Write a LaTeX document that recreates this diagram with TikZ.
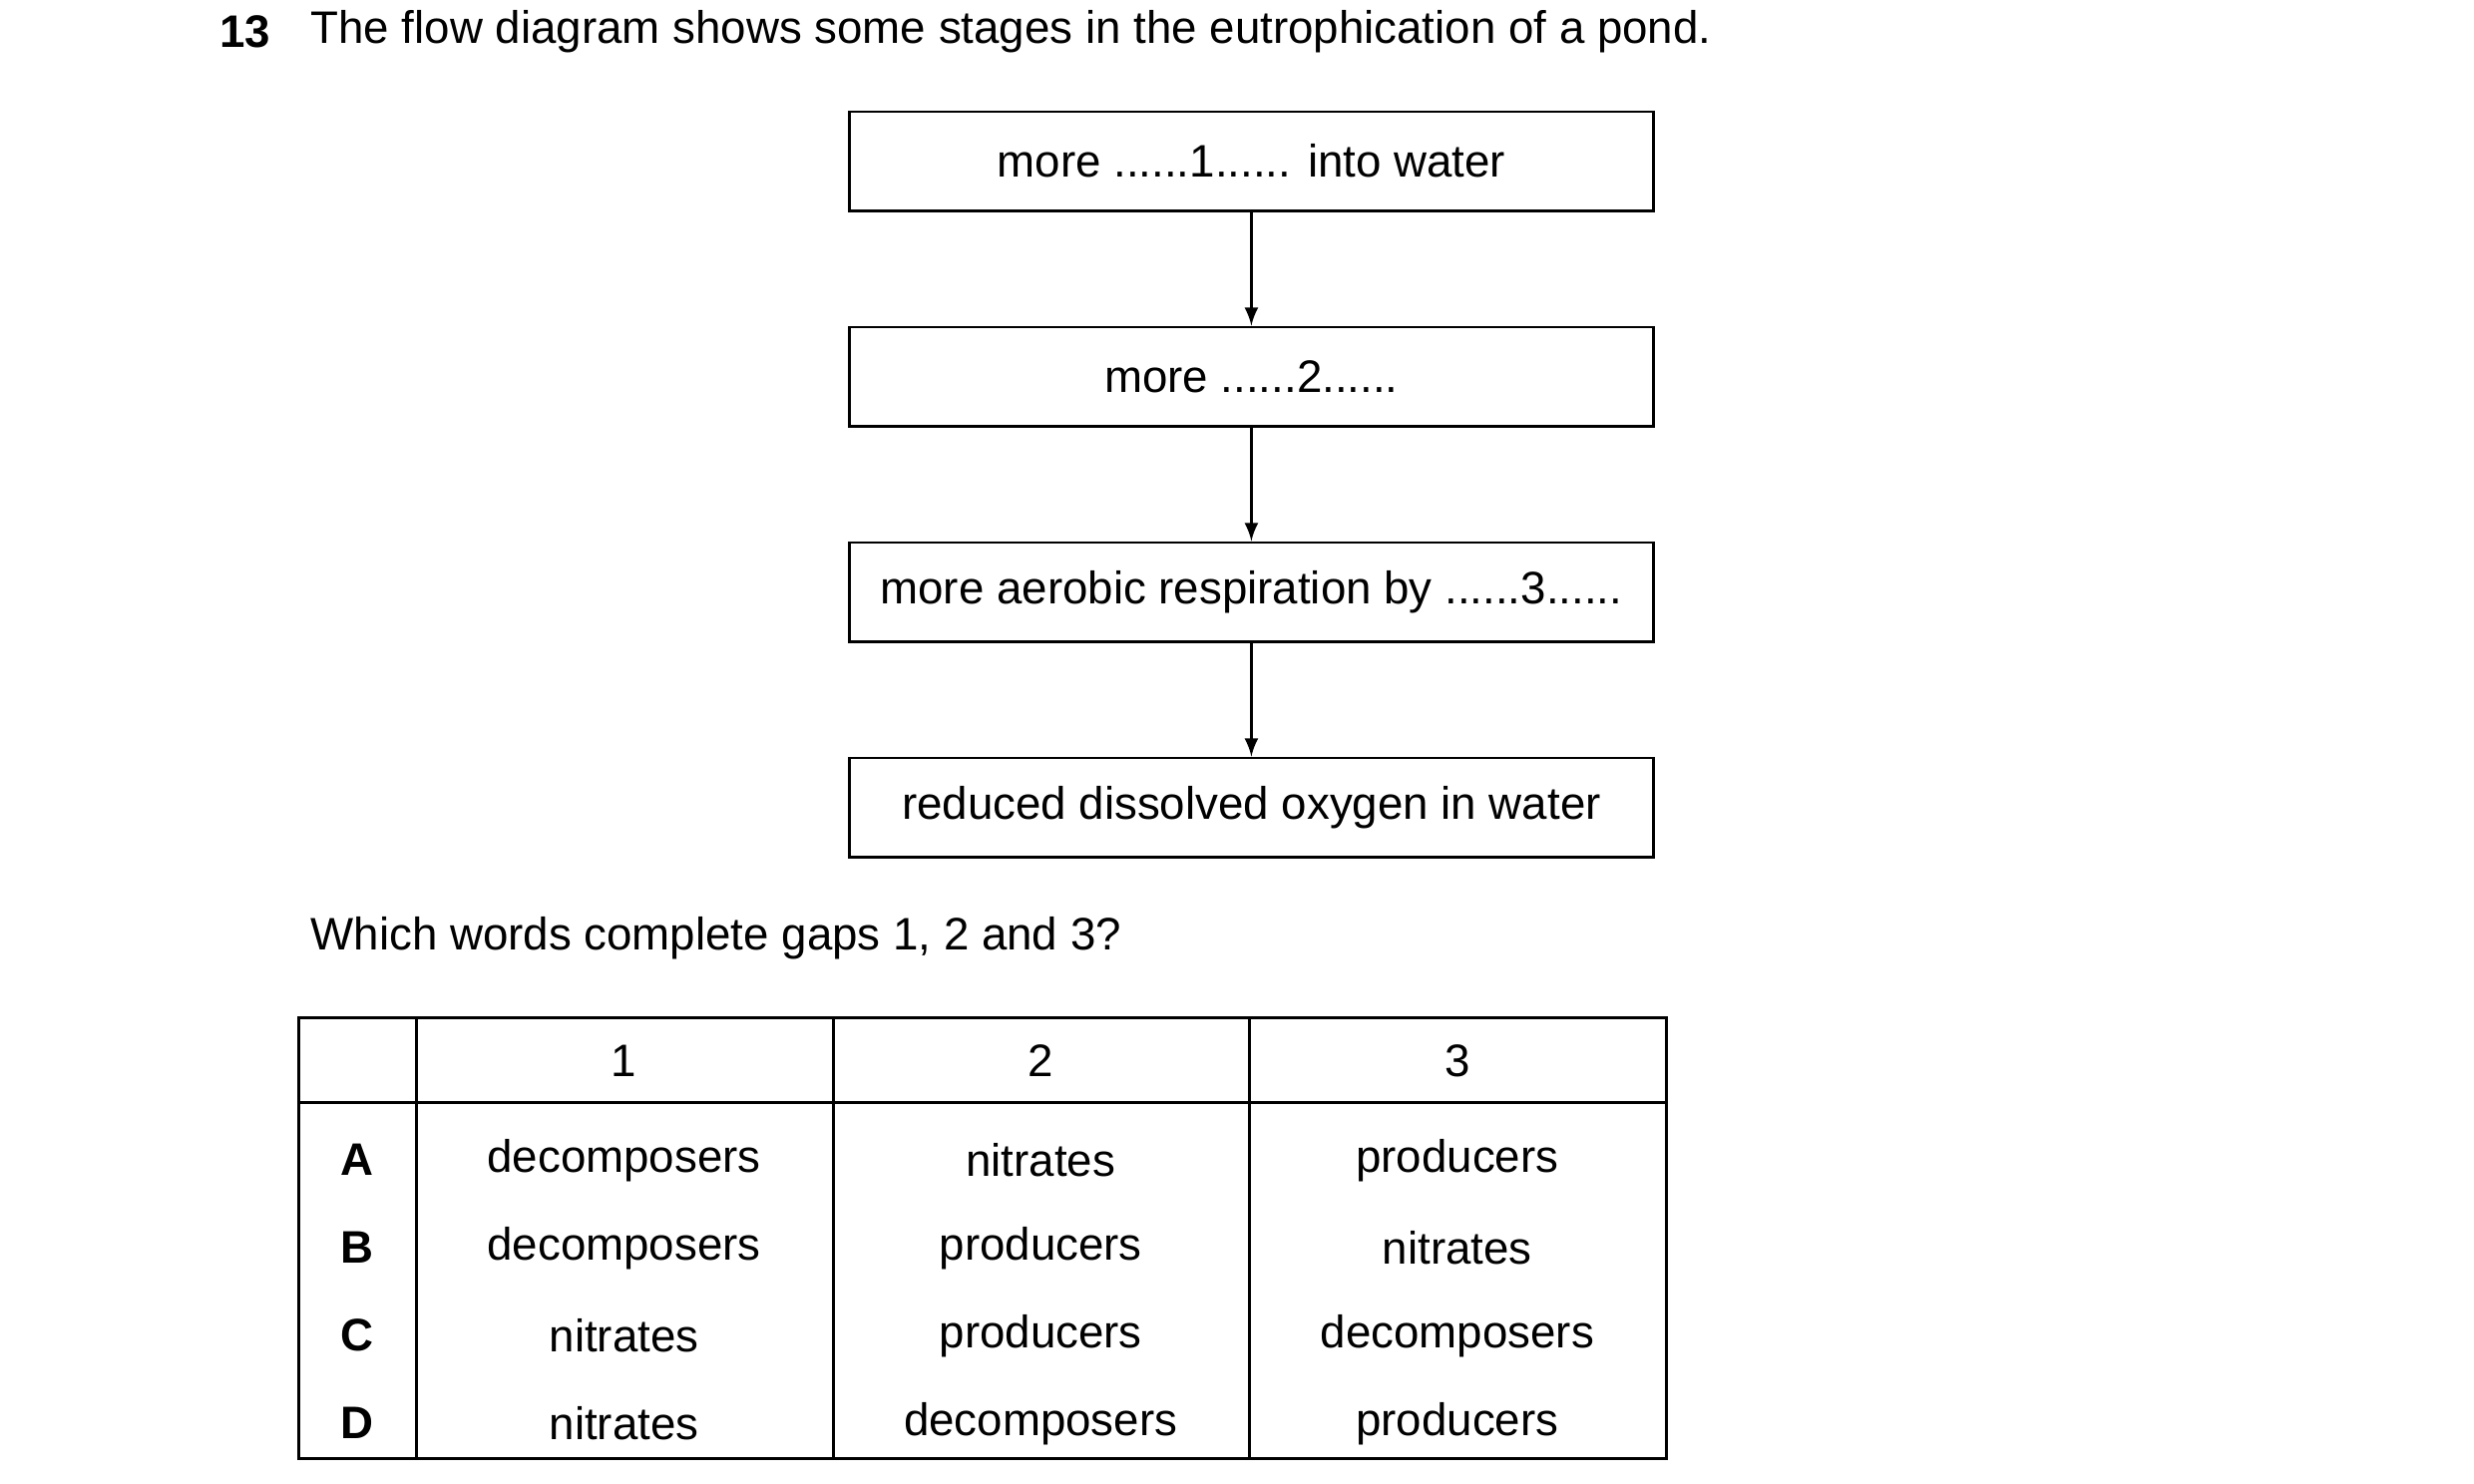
\documentclass[tikz,border=0pt]{standalone}
\usepackage{fontspec}
\setmainfont{Liberation Sans}
\usetikzlibrary{positioning}
\begin{document}
\begin{tikzpicture}[x=0.016cm, y=-0.016cm, font=\fontsize{13}{15}\selectfont,
			stage/.style = {draw, rectangle, black, thick, minimum width = 8.064cm, minimum height = 0.992cm, inner sep=0pt},
			flow/.style  = {black, thick, -latex},
			cell/.style  = {anchor=center, inner sep=0pt},]
			
			\useasboundingbox (0,0) rectangle (1550,930);
			
			%% QUESTION
			\node[anchor=west, font=\fontsize{13}{15}\selectfont\bfseries] (num) at (130,20) {13};
			\node[anchor=west] (title) at (187,20) {The flow diagram shows some stages in the eutrophication of a pond.};
			
			%% FLOW DIAGRAM
			\node[stage] (s1) at (784,101) {more ......1...... into water};
			\node[stage] (s2) at (784,236) {more ......2......};
			\node[stage] (s3) at (784,371) {more aerobic respiration by ......3......};
			\node[stage] (s4) at (784,506) {reduced dissolved oxygen in water};
			\draw[flow] (s1) -- (s2);
			\draw[flow] (s2) -- (s3);
			\draw[flow] (s3) -- (s4);
			
			\node[anchor=west] (ask) at (187,588) {Which words complete gaps 1, 2 and 3?};
			
			%% TABLE
			\draw[black, thick] (187,638) rectangle (1044,914);
			\draw[black, thick] (187,691) -- (1044,691);
			\draw[black, thick] (261,638) -- (261,914);
			\draw[black, thick] (522,638) -- (522,914);
			\draw[black, thick] (783,638) -- (783,914);
			\node[cell] (h1) at (391,665) {1};
			\node[cell] (h2) at (652,665) {2};
			\node[cell] (h3) at (913,665) {3};
			\node[cell, font=\fontsize{13}{15}\selectfont\bfseries] (ra) at (224,727) {A};
			\node[cell, font=\fontsize{13}{15}\selectfont\bfseries] (rb) at (224,782) {B};
			\node[cell, font=\fontsize{13}{15}\selectfont\bfseries] (rc) at (224,837) {C};
			\node[cell, font=\fontsize{13}{15}\selectfont\bfseries] (rd) at (224,892) {D};
			\node[cell] (a1) at (391,727) {decomposers};
			\node[cell] (a2) at (652,727) {nitrates};
			\node[cell] (a3) at (913,727) {producers};
			\node[cell] (b1) at (391,782) {decomposers};
			\node[cell] (b2) at (652,782) {producers};
			\node[cell] (b3) at (913,782) {nitrates};
			\node[cell] (c1) at (391,837) {nitrates};
			\node[cell] (c2) at (652,837) {producers};
			\node[cell] (c3) at (913,837) {decomposers};
			\node[cell] (d1) at (391,892) {nitrates};
			\node[cell] (d2) at (652,892) {decomposers};
			\node[cell] (d3) at (913,892) {producers};
\end{tikzpicture}
\end{document}
